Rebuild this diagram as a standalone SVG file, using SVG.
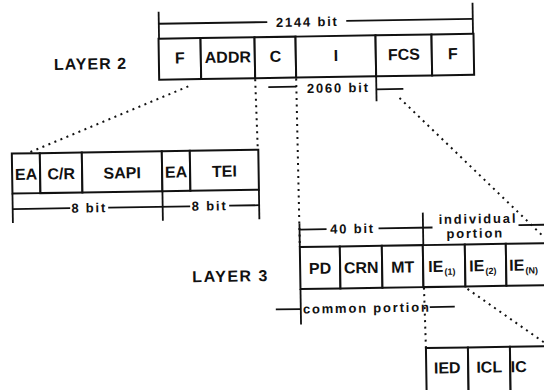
<svg xmlns="http://www.w3.org/2000/svg" width="544" height="390" viewBox="0 0 544 390">
<style>
.box{fill:#fff;stroke:#111;stroke-width:2}
.t{font-family:"Liberation Sans",Arial,sans-serif;font-weight:bold;fill:#111;text-anchor:middle}
.f{font-size:16px}
.ie{font-size:16px;text-anchor:start}
.sub{font-size:9px}
.d{font-size:13px;letter-spacing:1.8px}
.lbl{font-size:16px;text-anchor:start}
.ln{stroke:#111;stroke-width:1.8;fill:none}
.dot{stroke:#111;stroke-width:2;fill:none;stroke-dasharray:2 4.5}
</style>
<rect width="544" height="390" fill="#fff"/>
<g transform="rotate(-0.9 272 195)">
  <!-- connectors -->
  <g id="connectors">
    <line class="dot" x1="190" y1="85" x2="28" y2="149.5"/>
    <line class="dot" x1="257" y1="79" x2="258.5" y2="149.5"/>
    <line class="dot" x1="298" y1="79" x2="299" y2="247.5"/>
    <line class="dot" x1="422.5" y1="290" x2="423.5" y2="350.5"/>
    <line class="dot" x1="401" y1="100" x2="552" y2="250"/>
    <line class="dot" x1="466" y1="292" x2="556" y2="357"/>
  </g>

  <!-- labels -->
  <g id="layer2-label"><text class="t lbl" x="56" y="66.5" letter-spacing="1">LAYER 2</text></g>
  <g id="layer3-label"><text class="t lbl" x="191" y="281" letter-spacing="1.5">LAYER 3</text></g>

  <!-- Layer 2 frame -->
  <g id="l2-F1"><rect class="box" x="161" y="37" width="42" height="41"/><text class="t f" x="182" y="62">F</text></g>
  <g id="l2-ADDR"><rect class="box" x="203" y="37" width="54" height="41"/><text class="t f" x="230" y="62">ADDR</text></g>
  <g id="l2-C"><rect class="box" x="257" y="37" width="41" height="41"/><text class="t f" x="277.5" y="62">C</text></g>
  <g id="l2-I"><rect class="box" x="298" y="37" width="80" height="41"/><text class="t f" x="338" y="62">I</text></g>
  <g id="l2-FCS"><rect class="box" x="378" y="37" width="56" height="41"/><text class="t f" x="406" y="62">FCS</text></g>
  <g id="l2-F2"><rect class="box" x="434" y="37" width="42" height="41"/><text class="t f" x="455" y="62">F</text></g>

  <!-- 2144 bit -->
  <g id="dim-2144">
    <line class="ln" x1="161.5" y1="10" x2="161.5" y2="37"/>
    <line class="ln" x1="475.5" y1="6" x2="475.5" y2="37"/>
    <line class="ln" x1="161.5" y1="22" x2="270" y2="22"/>
    <line class="ln" x1="349" y1="22" x2="475.5" y2="22"/>
    <text class="t d" x="310" y="27">2144 bit</text>
  </g>
  <!-- 2060 bit -->
  <g id="dim-2060">
    <line class="ln" x1="270" y1="87" x2="298" y2="87"/>
    <text class="t d" x="340" y="93.5">2060 bit</text>
    <line class="ln" x1="378" y1="78" x2="378" y2="103"/>
    <line class="ln" x1="378" y1="91" x2="405" y2="91"/>
  </g>

  <!-- ADDR expansion -->
  <g id="a-EA1"><rect class="box" x="12.5" y="149.5" width="28" height="40"/><text class="t f" x="26.5" y="176">EA</text></g>
  <g id="a-CR"><rect class="box" x="40.5" y="149.5" width="42" height="40"/><text class="t f" x="61.5" y="176">C/R</text></g>
  <g id="a-SAPI"><rect class="box" x="82.5" y="149.5" width="80" height="40"/><text class="t f" x="122.5" y="176">SAPI</text></g>
  <g id="a-EA2"><rect class="box" x="162.5" y="149.5" width="28" height="40"/><text class="t f" x="176.5" y="176">EA</text></g>
  <g id="a-TEI"><rect class="box" x="190.5" y="149.5" width="68.5" height="40"/><text class="t f" x="224.75" y="176">TEI</text></g>
  <g id="dim-8bit">
    <line class="ln" x1="12.5" y1="189.5" x2="12.5" y2="219"/>
    <line class="ln" x1="162.5" y1="189.5" x2="162.5" y2="219"/>
    <line class="ln" x1="259" y1="189.5" x2="259" y2="219"/>
    <line class="ln" x1="12.5" y1="205" x2="70" y2="205"/>
    <line class="ln" x1="108" y1="205" x2="190" y2="205"/>
    <line class="ln" x1="229" y1="205" x2="259" y2="205"/>
    <text class="t d" x="89" y="209.5">8 bit</text>
    <text class="t d" x="209.5" y="209.5">8 bit</text>
  </g>

  <!-- Layer 3 frame -->
  <g id="l3-PD"><rect class="box" x="299" y="247.5" width="40" height="42"/><text class="t f" x="319" y="274.5">PD</text></g>
  <g id="l3-CRN"><rect class="box" x="339" y="247.5" width="42" height="42"/><text class="t f" x="360" y="274.5">CRN</text></g>
  <g id="l3-MT"><rect class="box" x="381" y="247.5" width="41" height="42"/><text class="t f" x="401.5" y="274.5">MT</text></g>
  <g id="l3-IE1"><rect class="box" x="422" y="247.5" width="42" height="42"/><text class="t ie" x="427" y="274.5">IE<tspan class="sub" dx="1" dy="3">(1)</tspan></text></g>
  <g id="l3-IE2"><rect class="box" x="464" y="247.5" width="41" height="42"/><text class="t ie" x="468" y="274.5">IE<tspan class="sub" dx="1" dy="3">(2)</tspan></text></g>
  <g id="l3-IEN"><rect class="box" x="505" y="247.5" width="90" height="42"/><text class="t ie" x="508" y="274.5">IE<tspan class="sub" dx="1" dy="3">(N)</tspan></text></g>

  <g id="dim-40bit">
    <line class="ln" x1="299" y1="224" x2="299" y2="247.5"/>
    <line class="ln" x1="299" y1="230" x2="326" y2="230"/>
    <text class="t d" x="352" y="234.5">40 bit</text>
    <line class="ln" x1="378" y1="230" x2="432" y2="230"/>
    <line class="ln" x1="422.5" y1="215" x2="422.5" y2="247.5"/>
  </g>
  <g id="dim-individual">
    <text class="t d" x="477.5" y="226.5">individual</text>
    <text class="t d" x="474.5" y="241">portion</text>
    <line class="ln" x1="518" y1="229" x2="560" y2="229"/>
  </g>
  <g id="dim-common">
    <line class="ln" x1="299" y1="289.5" x2="299" y2="325"/>
    <line class="ln" x1="274" y1="309.5" x2="299" y2="309.5"/>
    <text class="t d" x="365" y="314" letter-spacing="1.3">common portion</text>
    <line class="ln" x1="428" y1="309.5" x2="453" y2="309.5"/>
  </g>

  <!-- IE expansion -->
  <g id="ie-IED"><rect class="box" x="423.5" y="350.5" width="42" height="60"/><text class="t f" x="444.5" y="376">IED</text></g>
  <g id="ie-ICL"><rect class="box" x="465.5" y="350.5" width="42" height="60"/><text class="t f" x="486.5" y="376">ICL</text></g>
  <g id="ie-IC"><rect class="box" x="507.5" y="350.5" width="90" height="60"/><text class="t f" x="516" y="376" text-anchor="start">IC</text></g>
</g>
</svg>
